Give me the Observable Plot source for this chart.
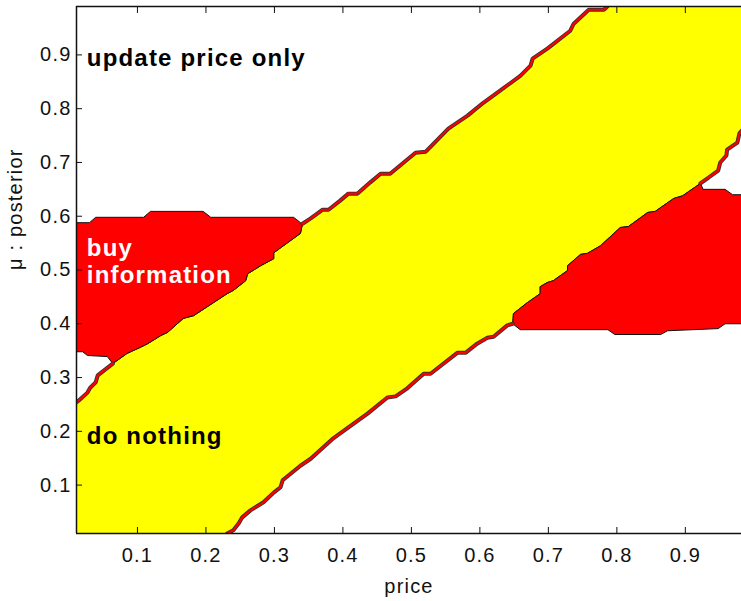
<!DOCTYPE html>
<html><head><meta charset="utf-8">
<script src="https://cdn.jsdelivr.net/npm/d3@7"></script>
<script src="https://cdn.jsdelivr.net/npm/@observablehq/plot@0.6"></script>
<style>
html,body{margin:0;padding:0;background:#fff;overflow:hidden}
</style></head><body><div id="chart"></div>
<script>
// axis limits and ticks
const xDomain = [0.011, 0.982];
const yDomain = [0.01, 0.99];
const xTicks = [0.1, 0.2, 0.3, 0.4, 0.5, 0.6, 0.7, 0.8, 0.9];
const yTicks = [0.1, 0.2, 0.3, 0.4, 0.5, 0.6, 0.7, 0.8, 0.9];
const tickLabels = ["0.1", "0.2", "0.3", "0.4", "0.5", "0.6", "0.7", "0.8", "0.9"];

// upper edge of the "do nothing" band (price, posterior)
const upperBoundary = [
  [0.011,0.254],[0.014,0.257],[0.027,0.272],[0.031,0.281],[0.039,0.291],[0.042,0.304],
  [0.064,0.326],[0.085,0.345],[0.104,0.356],[0.115,0.363],[0.134,0.378],[0.144,0.384],
  [0.167,0.410],[0.182,0.415],[0.231,0.456],[0.240,0.462],[0.258,0.480],[0.261,0.493],
  [0.280,0.508],[0.299,0.521],[0.299,0.532],[0.338,0.568],[0.341,0.586],[0.353,0.596],
  [0.370,0.612],[0.379,0.612],[0.396,0.629],[0.408,0.642],[0.421,0.642],[0.440,0.663],
  [0.455,0.679],[0.469,0.679],[0.506,0.718],[0.521,0.720],[0.554,0.763],[0.582,0.787],
  [0.605,0.811],[0.630,0.834],[0.659,0.861],[0.674,0.880],[0.677,0.893],[0.699,0.912],
  [0.732,0.945],[0.737,0.958],[0.759,0.984],[0.781,0.984],[0.786,0.990]
];

// lower edge of the "do nothing" band
const lowerBoundary = [
  [0.231,0.010],[0.240,0.016],[0.248,0.029],[0.253,0.040],[0.265,0.053],[0.284,0.068],
  [0.299,0.086],[0.309,0.096],[0.312,0.109],[0.338,0.136],[0.353,0.149],[0.386,0.187],
  [0.396,0.196],[0.436,0.233],[0.465,0.263],[0.477,0.265],[0.494,0.280],[0.518,0.307],
  [0.528,0.307],[0.567,0.346],[0.579,0.346],[0.596,0.363],[0.611,0.374],[0.620,0.376],
  [0.640,0.397],[0.648,0.400],[0.649,0.419],[0.669,0.439],[0.688,0.456],[0.688,0.469],
  [0.699,0.477],[0.707,0.480],[0.728,0.499],[0.728,0.508],[0.747,0.529],[0.757,0.531],
  [0.776,0.545],[0.805,0.579],[0.817,0.581],[0.845,0.607],[0.856,0.609],[0.883,0.633],
  [0.896,0.638],[0.922,0.661],[0.934,0.672],[0.948,0.685],[0.951,0.700],[0.960,0.713],
  [0.961,0.724],[0.976,0.737],[0.979,0.754],[0.990,0.770]
];

// "buy information" region, upper left: top edge and bottom edge
const buyLeftTop = [
  [0.011,0.588],[0.030,0.588],[0.039,0.598],[0.109,0.598],[0.119,0.609],
  [0.196,0.609],[0.207,0.598],[0.328,0.598],[0.338,0.588]
];
const buyLeftBottom = [[0.056,0.339],[0.027,0.341],[0.020,0.348],[0.011,0.348]];

// "buy information" region, lower right: top edge and bottom edge
const buyRightTop = [[0.926,0.650],[0.958,0.650],[0.969,0.640],[0.990,0.640]];
const buyRightBottom = [
  [0.990,0.400],[0.958,0.400],[0.948,0.391],[0.874,0.387],[0.864,0.380],
  [0.797,0.380],[0.787,0.389],[0.659,0.389]
];

// region labels
const labelText = ["update price only", "buy\ninformation", "do nothing"];
const labelX = [0.026, 0.026, 0.026];
const labelY = [0.896, 0.517, 0.192];
const labelColor = ["black", "white", "black"];

const xLabel = "price";
const yLabel = "\u03bc : posterior";

// build polygons from the boundaries
const yellowPoly = [[xDomain[0], yDomain[0]], ...lowerBoundary, [0.99, 1.0], ...upperBoundary.slice().reverse(), [xDomain[0], yDomain[0]]];
const redLeftPoly = [...buyLeftTop, ...upperBoundary.filter(p => p[0] >= 0.064 && p[0] <= 0.341).reverse(), ...buyLeftBottom];
redLeftPoly.push(redLeftPoly[0]);
const redRightPoly = [...lowerBoundary.filter(p => p[0] >= 0.648 && p[0] <= 0.922), ...buyRightTop, ...buyRightBottom];
redRightPoly.push(redRightPoly[0]);

const stripes = [
  ...upperBoundary.filter(p => p[0] <= 0.064).map(p => ({x: p[0], y: p[1], seg: "a"})),
  ...upperBoundary.filter(p => p[0] >= 0.341).map(p => ({x: p[0], y: p[1], seg: "b"})),
  ...lowerBoundary.filter(p => p[0] <= 0.648).map(p => ({x: p[0], y: p[1], seg: "c"})),
  ...lowerBoundary.filter(p => p[0] >= 0.922).map(p => ({x: p[0], y: p[1], seg: "d"}))
];

const labels = labelText.map((t, i) => ({t, x: labelX[i], y: labelY[i], c: labelColor[i]}));
const fmt = d => tickLabels[xTicks.indexOf(d)] ?? String(d);

const poly = (data, fill) => Plot.line(data, {x: d => d[0], y: d => d[1], fill, stroke: "#111", strokeWidth: 1, strokeLinejoin: "miter", clip: true, curve: "linear"});

const chart = Plot.plot({
  width: 741, height: 601,
  marginLeft: 76, marginRight: 0, marginTop: 6, marginBottom: 68,
  x: {domain: xDomain},
  y: {domain: yDomain},
  style: {fontFamily: "'Liberation Sans', Arial, sans-serif", fontSize: "20px", background: "white", color: "black", letterSpacing: "1.2px"},
  marks: [
    poly(yellowPoly, "#ffff00"),
    poly(redLeftPoly, "#ff0000"),
    poly(redRightPoly, "#ff0000"),
    Plot.line(stripes, {x: "x", y: "y", z: "seg", stroke: "#333", strokeWidth: 4, strokeLinejoin: "miter", clip: true}),
    Plot.line(stripes, {x: "x", y: "y", z: "seg", stroke: "#ff0000", strokeWidth: 2.2, strokeLinejoin: "miter", clip: true}),
    Plot.text(labels, {x: "x", y: "y", text: "t", fill: "c", textAnchor: "start", lineAnchor: "middle", fontWeight: "bold", fontSize: 24, lineHeight: 1.15}),
    Plot.ruleX([xDomain[0]], {stroke: "#111", strokeWidth: 1.5}),
    Plot.ruleY(yDomain, {stroke: "#111", strokeWidth: 1.5}),
    Plot.axisX(xTicks, {anchor: "bottom", tickSize: -6, tickFormat: () => "", label: null, stroke: "#111"}),
    Plot.axisX(xTicks, {anchor: "top", tickSize: -6, tickFormat: () => "", label: null, stroke: "#111"}),
    Plot.axisY(yTicks, {anchor: "left", tickSize: -6, tickFormat: () => "", label: null, stroke: "#111"}),
    Plot.axisX(xTicks, {anchor: "bottom", tickSize: 0, tickPadding: 14, label: null, fontSize: 20, fill: "#111", tickFormat: fmt}),
    Plot.axisY(yTicks, {anchor: "left", tickSize: 0, tickPadding: 5, label: null, fontSize: 20, fill: "#111", tickFormat: fmt}),
    Plot.text([xLabel], {frameAnchor: "bottom", dy: 53, lineAnchor: "middle", fontSize: 20, fill: "#111"}),
    Plot.text([yLabel], {frameAnchor: "left", rotate: -90, dx: -61, lineAnchor: "middle", fontSize: 20, fill: "#111"})
  ]
});
document.getElementById("chart").append(chart);
</script>
</body></html>
